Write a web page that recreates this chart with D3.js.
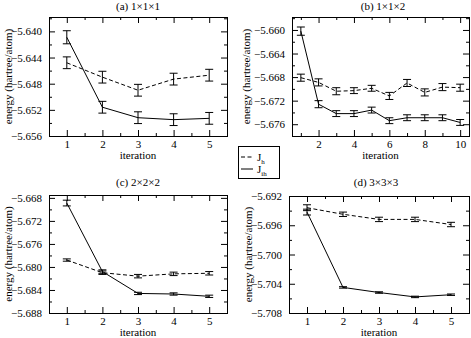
<!DOCTYPE html>
<html>
<head>
<meta charset="utf-8">
<script src="https://cdn.jsdelivr.net/npm/d3@7"></script>
</head>
<body style="margin:0; background:#fff">
<svg id="chart" width="471" height="338"></svg>
<script>
// ---- data ----
var titles = ["(a) 1\u00d71\u00d71", "(b) 1\u00d71\u00d72", "(c) 2\u00d72\u00d72", "(d) 3\u00d73\u00d73"];

var iter5 = [1, 2, 3, 4, 5];
var iter10 = [1, 2, 3, 4, 5, 6, 7, 8, 9, 10];

// (a) 1x1x1
var jhA = [-5.6448, -5.6470, -5.6490, -5.6473, -5.6467];
var jhErrA = [0.0009, 0.0009, 0.0009, 0.0009, 0.0009];
var jihA = [-5.6409, -5.6516, -5.6532, -5.6535, -5.6533];
var jihErrA = [0.0010, 0.0009, 0.0009, 0.0009, 0.0009];

// (b) 1x1x2
var jhB = [-5.6681, -5.6689, -5.6704, -5.6703, -5.6699, -5.6712, -5.6690, -5.6706, -5.6697, -5.6698];
var jhErrB = [0.0006, 0.0006, 0.0006, 0.0005, 0.0005, 0.0006, 0.0006, 0.0006, 0.0006, 0.0006];
var jihB = [-5.6602, -5.6726, -5.6742, -5.6742, -5.6736, -5.6754, -5.6749, -5.6749, -5.6749, -5.6757];
var jihErrB = [0.0007, 0.0006, 0.0005, 0.0005, 0.0005, 0.0005, 0.0005, 0.0005, 0.0005, 0.0005];

// (c) 2x2x2
var jhC = [-5.6788, -5.6810, -5.6816, -5.6812, -5.6811];
var jhErrC = [0.0002, 0.0003, 0.0003, 0.0003, 0.0003];
var jihC = [-5.6689, -5.6808, -5.6846, -5.6847, -5.6851];
var jihErrC = [0.0005, 0.0003, 0.0002, 0.0002, 0.0002];

// (d) 3x3x3
var jhD = [-5.6936, -5.6945, -5.6952, -5.6952, -5.6959];
var jhErrD = [0.0004, 0.0003, 0.0003, 0.0003, 0.0003];
var jihD = [-5.6942, -5.7045, -5.7052, -5.7058, -5.7055];
var jihErrD = [0.0004, 0.0001, 0.0001, 0.0001, 0.0001];

// axis ranges and tick labels
var yDomains = [[-5.656, -5.6378], [-5.678, -5.6578], [-5.688, -5.6675], [-5.708, -5.692]];
var yTickLabels = [
  [-5.656, -5.652, -5.648, -5.644, -5.640],
  [-5.676, -5.672, -5.668, -5.664, -5.660],
  [-5.688, -5.684, -5.680, -5.676, -5.672, -5.668],
  [-5.708, -5.704, -5.700, -5.696, -5.692]
];
var xTickLabels5 = [1, 2, 3, 4, 5];
var xTickLabels10 = [2, 4, 6, 8, 10];
var legendNames = ["J", "J"];
var legendSubs = ["h", "ih"];

// ---- layout ----
var FONT = "Liberation Serif";
var panels = [
  {title: titles[0], x: iter5, jh: jhA, jhE: jhErrA, jih: jihA, jihE: jihErrA, yd: yDomains[0], yt: yTickLabels[0],
   xd: [0.5, 5.5], xt: xTickLabels5, xstep: 0.5, box: [49, 17, 227, 136], ylabX: 8, titleX: 138, titleY: 10},
  {title: titles[1], x: iter10, jh: jhB, jhE: jhErrB, jih: jihB, jihE: jihErrB, yd: yDomains[1], yt: yTickLabels[1],
   xd: [0.5, 10.5], xt: xTickLabels10, xstep: 1, box: [292, 17, 469, 136], ylabX: 246, titleX: 383, titleY: 10},
  {title: titles[2], x: iter5, jh: jhC, jhE: jhErrC, jih: jihC, jihE: jihErrC, yd: yDomains[2], yt: yTickLabels[2],
   xd: [0.5, 5.5], xt: xTickLabels5, xstep: 0.5, box: [49, 195, 227, 313], ylabX: 8, titleX: 138, titleY: 186},
  {title: titles[3], x: iter5, jh: jhD, jhE: jhErrD, jih: jihD, jihE: jihErrD, yd: yDomains[3], yt: yTickLabels[3],
   xd: [0.5, 5.5], xt: xTickLabels5, xstep: 0.5, box: [289, 196, 469, 313], ylabX: 248, titleX: 376, titleY: 186}
];

var svg = d3.select("#chart");
var fmt = d3.format(".3f");

function minorRange(lo, hi, step) {
  var out = [];
  var start = Math.ceil(lo / step - 1e-9);
  for (var k = start; k * step <= hi + 1e-9; k++) out.push(+(k * step).toFixed(6));
  return out;
}

function styleAxis(s) {
  s.select(".domain").remove();
  s.attr("font-family", FONT).attr("font-size", 11);
  s.selectAll(".tick line").attr("stroke", "#000");
  s.selectAll(".tick text").attr("fill", "#000");
}

function lineStyle(sel, dashed) {
  sel.attr("fill", "none").attr("stroke", "#000").attr("stroke-width", 1);
  if (dashed) sel.attr("stroke-dasharray", "4,2.5");
  return sel;
}

function drawPanel(p) {
  var x0 = p.box[0], y0 = p.box[1], x1 = p.box[2], y1 = p.box[3];
  var w = x1 - x0, h = y1 - y0;
  var g = svg.append("g").attr("transform", "translate(" + x0 + "," + y0 + ")");

  var xScale = d3.scaleLinear().domain(p.xd).range([0, w]);
  var yScale = d3.scaleLinear().domain(p.yd).range([h, 0]);

  var xMinor = minorRange(p.xd[0], p.xd[1], p.xstep).filter(function(v) { return p.xt.indexOf(v) < 0 && v > p.xd[0] && v < p.xd[1]; });
  var yMinor = minorRange(p.yd[0], p.yd[1], 0.002).filter(function(v) {
    return !p.yt.some(function(t) { return Math.abs(t - v) < 1e-7; }) && v > p.yd[0] + 1e-7 && v < p.yd[1] - 1e-7;
  });

  // major axes with labels (ticks inward)
  g.append("g").attr("transform", "translate(0," + h + ")")
    .call(d3.axisBottom(xScale).tickValues(p.xt).tickSize(-6).tickPadding(4).tickFormat(d3.format("d")))
    .call(styleAxis);
  g.append("g")
    .call(d3.axisLeft(yScale).tickValues(p.yt).tickSize(-6).tickPadding(7).tickFormat(fmt))
    .call(styleAxis);
  g.append("g")
    .call(d3.axisTop(xScale).tickValues(p.xt).tickSize(-6).tickFormat(""))
    .call(styleAxis);
  g.append("g").attr("transform", "translate(" + w + ",0)")
    .call(d3.axisRight(yScale).tickValues(p.yt).tickSize(-6).tickFormat(""))
    .call(styleAxis);

  // minor ticks
  g.append("g").attr("transform", "translate(0," + h + ")")
    .call(d3.axisBottom(xScale).tickValues(xMinor).tickSize(-3).tickFormat(""))
    .call(styleAxis);
  g.append("g")
    .call(d3.axisTop(xScale).tickValues(xMinor).tickSize(-3).tickFormat(""))
    .call(styleAxis);
  g.append("g")
    .call(d3.axisLeft(yScale).tickValues(yMinor).tickSize(-3).tickFormat(""))
    .call(styleAxis);
  g.append("g").attr("transform", "translate(" + w + ",0)")
    .call(d3.axisRight(yScale).tickValues(yMinor).tickSize(-3).tickFormat(""))
    .call(styleAxis);

  g.append("rect")
    .attr("x", 0.5).attr("y", 0.5).attr("width", w).attr("height", h)
    .attr("fill", "none").attr("stroke", "#000");

  // series
  var series = [
    {dashed: true, v: p.jh, e: p.jhE},
    {dashed: false, v: p.jih, e: p.jihE}
  ];
  series.forEach(function(s) {
    var pts = p.x.map(function(it, i) { return {x: it, y: s.v[i], e: s.e[i]}; });
    var line = d3.line().x(function(d) { return xScale(d.x); }).y(function(d) { return yScale(d.y); });
    lineStyle(g.append("path").datum(pts).attr("d", line), s.dashed);

    var eb = g.append("g").attr("stroke", "#000").attr("stroke-width", 1)
      .selectAll("g").data(pts).enter().append("g");
    eb.append("line")
      .attr("x1", function(d) { return xScale(d.x); }).attr("x2", function(d) { return xScale(d.x); })
      .attr("y1", function(d) { return yScale(d.y - d.e); }).attr("y2", function(d) { return yScale(d.y + d.e); });
    [-1, 1].forEach(function(sgn) {
      eb.append("line")
        .attr("x1", function(d) { return xScale(d.x) - 4; }).attr("x2", function(d) { return xScale(d.x) + 4; })
        .attr("y1", function(d) { return yScale(d.y + sgn * d.e); }).attr("y2", function(d) { return yScale(d.y + sgn * d.e); });
    });
  });

  // title and axis labels
  svg.append("text").attr("x", p.titleX).attr("y", p.titleY)
    .attr("font-family", FONT).attr("font-size", 11)
    .attr("text-anchor", "middle").text(p.title);
  svg.append("text").attr("x", x0 + w / 2).attr("y", y1 + 23)
    .attr("font-family", FONT).attr("font-size", 11)
    .attr("text-anchor", "middle").text("iteration");
  svg.append("text")
    .attr("transform", "translate(" + (p.ylabX + 4) + "," + (y0 + h / 2) + ") rotate(-90)")
    .attr("font-family", FONT).attr("font-size", 11)
    .attr("text-anchor", "middle").text("energy (hartree/atom)");
}

panels.forEach(drawPanel);

// legend
var lg = svg.append("g").attr("transform", "translate(238,146)");
lg.append("rect").attr("x", 0.5).attr("y", 0.5).attr("width", 41).attr("height", 32)
  .attr("fill", "#fff").attr("stroke", "#000");
[true, false].forEach(function(dashed, i) {
  var yy = 11 + i * 12;
  lineStyle(lg.append("line").attr("x1", 3).attr("x2", 15).attr("y1", yy).attr("y2", yy), dashed);
  var t = lg.append("text").attr("x", 19).attr("y", yy + 4)
    .attr("font-family", FONT).attr("font-size", 11).text(legendNames[i]);
  t.append("tspan").attr("font-size", 7).attr("dy", 3).text(legendSubs[i]);
});
</script>
</body>
</html>
